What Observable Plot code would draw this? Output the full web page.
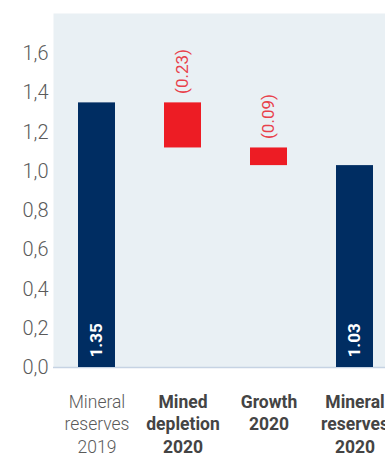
<!DOCTYPE html>
<html>
<head>
<meta charset="utf-8">
<script src="https://cdn.jsdelivr.net/npm/d3@7"></script>
<script src="https://cdn.jsdelivr.net/npm/@observablehq/plot@0.6"></script>
<style>
  html, body { margin: 0; padding: 0; background: #fff; overflow: hidden; width: 385px; height: 457px; }
  #chart svg { display: block; overflow: visible; max-width: none !important; }
</style>
</head>
<body>
<div id="chart"></div>
<script>
const categories = ["Mineral\nreserves\n2019", "Mined\ndepletion\n2020", "Growth\n2020", "Mineral\nreserves\n2020"];
const values = [1.35, -0.23, -0.09, 1.03];
const kinds = ["total", "change", "change", "total"];
const valueLabels = ["1.35", "(0.23)", "(0.09)", "1.03"];
const boldCategory = [false, true, true, true];
const yTicks = [0, 0.2, 0.4, 0.6, 0.8, 1.0, 1.2, 1.4, 1.6];

let running = 0;
const data = categories.map((c, i) => {
  let y1, y2;
  if (kinds[i] === "total") { y1 = 0; y2 = values[i]; running = values[i]; }
  else { y1 = running; y2 = running + values[i]; running = y2; }
  return { category: c, y1, y2, top: Math.max(y1, y2), kind: kinds[i], label: valueLabels[i], bold: boldCategory[i] };
});

const font = "'Liberation Sans Narrow', 'Roboto', sans-serif";

const chart = Plot.plot({
  width: 400,
  height: 457,
  marginLeft: 53,
  marginRight: 3,
  marginTop: 13,
  marginBottom: 90,
  style: { fontFamily: font, background: "transparent", maxWidth: "none" },
  x: { domain: categories, paddingInner: 0.57, paddingOuter: 0.285, axis: null },
  y: { domain: [0, 1.806], axis: null },
  marks: [
    Plot.frame({ fill: "#e9f0f4", stroke: null }),
    Plot.axisY({ ticks: yTicks, tickFormat: d => d.toFixed(1).replace(".", ","), tickSize: 0, tickPadding: 5, fontSize: 20, fill: "#5a5a5a", fontWeight: 300, label: null }),
    Plot.ruleY([0], { stroke: "#c6d3e3", strokeWidth: 1.5 }),
    Plot.barY(data, { x: "category", y1: "y1", y2: "y2", fill: d => d.kind === "total" ? "#002d62" : "#ed1c24" }),
    Plot.text(data.filter(d => d.kind === "total"), { x: "category", y: 0, text: "label", rotate: -90, textAnchor: "start", dy: -10, fill: "white", fontWeight: "bold", fontSize: 17 }),
    Plot.text(data.filter(d => d.kind === "change"), { x: "category", y: "top", text: "label", rotate: -90, textAnchor: "start", dy: -9, fill: "#e8414b", fontSize: 17 }),
    Plot.text(data.filter(d => !d.bold), { x: "category", frameAnchor: "bottom", text: "category", lineAnchor: "top", dy: 24, lineHeight: 1.3, fontSize: 17.5, fill: "#5a5a5a", fontWeight: 300 }),
    Plot.text(data.filter(d => d.bold), { x: "category", frameAnchor: "bottom", text: "category", lineAnchor: "top", dy: 24, lineHeight: 1.3, fontSize: 17.5, fill: "#444", fontWeight: "bold" })
  ]
});
document.getElementById("chart").append(chart);
</script>
</body>
</html>
